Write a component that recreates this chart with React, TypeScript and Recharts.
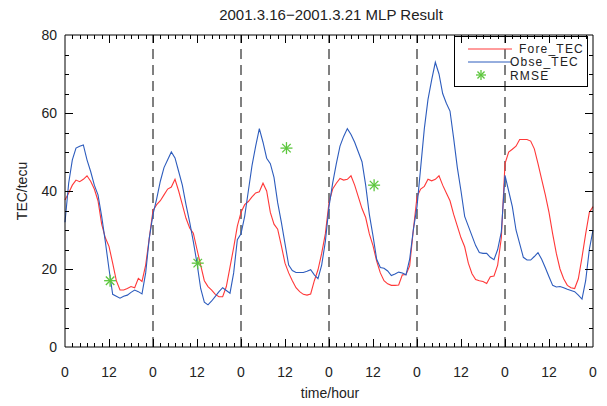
import { ComposedChart, Line, XAxis, YAxis, ReferenceLine } from 'recharts';

// ── data (hourly, 2001-03-16 00h .. 2001-03-22 00h) ──────────────────────────

const HOURS = Array.from({ length: 145 }, (_, i) => i);

const FORE_TEC = [
  37.7, 39.5, 41.5, 42.8, 42.4, 43, 43.9, 42.5, 40.5, 37.5, 31.5, 28, 25.8, 21.5, 17, 14.6, 14.6, 15, 15.5, 15.2, 17.6, 16.8, 21, 28,
  35, 36.5, 37.5, 39, 40.5, 41, 43, 40, 36.5, 33, 30.5, 29.2, 25, 21, 17, 15.5, 14.6, 13.5, 12.9, 12.9, 15.5, 20.5, 25.5, 31,
  34.5, 36.5, 37.3, 38.5, 39.5, 39.8, 42, 40, 34.5, 31.5, 30.2, 26, 21.5, 19, 17, 15.2, 14.2, 13.5, 13.3, 13.6, 17, 19.8, 24, 29,
  37, 40.5, 42, 43.2, 42.8, 43, 43.9, 41.5, 38.5, 35.5, 33.2, 29, 26, 22, 19, 17, 16.2, 15.8, 15.8, 15.9, 18.5, 18.6, 20.8, 30,
  38.5, 40.5, 41.2, 43, 42.6, 43, 43.9, 41.5, 39.5, 37.5, 34, 31, 28, 25.7, 21.5, 18.8, 17.3, 17, 16.8, 16.3, 18, 18.2, 21, 28,
  47, 50, 50.7, 51.5, 53.2, 53.2, 53.2, 52.8, 50.8, 47, 43, 39, 34.5, 29, 24, 20, 17.5, 15.8, 15.2, 15, 17.5, 23, 29, 34.5, 36,
];

const OBSE_TEC = [
  32, 42, 48, 51, 51.5, 51.8, 48, 45, 41.5, 39, 33.5, 27, 20, 13.5, 13, 12.5, 13, 13.3, 14, 14.6, 14.2, 13.6, 19, 28,
  34, 38, 42.5, 46, 48, 50, 48.5, 45, 41.5, 36.5, 32, 27, 21.5, 15, 11.5, 10.8, 11.8, 13, 14.2, 15.2, 14.5, 13.8, 19, 27.5,
  29, 33.5, 40, 46.5, 51.5, 56, 52.5, 48.4, 47, 43.5, 37, 32, 26.5, 21, 19.6, 19.1, 19.1, 19.1, 19.4, 19.8, 18.5, 17.5, 21, 27,
  36, 42, 47, 51.5, 54, 56, 54.5, 52.5, 50, 47.5, 41.5, 34, 28.5, 22.5, 20.4, 20.2, 19.5, 18.3, 18.7, 19.2, 19, 18.5, 22.5, 30,
  36, 46, 56, 63.5, 68.5, 73, 70, 65, 62.5, 60.5, 53.5, 46, 40, 33.5, 31, 28.5, 26, 24.2, 24, 24, 23, 22.4, 25, 29.5,
  44, 40, 36, 30, 26.5, 23, 22.3, 22.3, 23.2, 24.2, 22.5, 20.3, 18, 15.8, 15.4, 15.5, 15.2, 14.8, 14.5, 14.2, 13.3, 12.3, 17, 25, 30,
];

const RMSE_HOUR = [12.3, 36.2, 60.4, 84.3];
const RMSE_VAL  = [17, 21.5, 51, 41.5];

const DAY_BREAKS = [24, 48, 72, 96, 120];
const X_LABEL_TICKS = Array.from({ length: 13 }, (_, i) => i * 12);
const X_MARKS = Array.from({ length: 73 }, (_, i) => i * 2).filter((t) => t > 0 && t < 144);
const Y_LABEL_TICKS = [0, 20, 40, 60, 80];
const Y_MARKS = Array.from({ length: 17 }, (_, i) => i * 5).filter((t) => t > 0 && t < 80);

// ── layout ────────────────────────────────────────────────────────────────────

const W = 607;
const H = 406;
const PLOT = { left: 65, right: 593, top: 35, bottom: 347 };
const FONT = '"Liberation Sans", Arial, sans-serif';
const INK = '#222';
const RED = '#ff3838';
const BLUE = '#2d5cbd';
const GREEN = '#5cc63c';

const data = HOURS.map((h, i) => ({ h, fore: FORE_TEC[i], obse: OBSE_TEC[i] }));
const rmseData = RMSE_HOUR.map((h, i) => ({ h, v: RMSE_VAL[i] }));

// ── tick labels ───────────────────────────────────────────────────────────────

function BottomLabel({ x, payload }: any) {
  const v = payload.value as number;
  return (
    <text x={x} y={PLOT.bottom + 30} textAnchor="middle" fontSize={14} fill={INK} fontFamily={FONT}>
      {v % 24 === 0 ? '0' : '12'}
    </text>
  );
}

function LeftLabel({ y, payload }: any) {
  return (
    <text x={PLOT.left - 8} y={y + 5} textAnchor="end" fontSize={14} fill={INK} fontFamily={FONT}>
      {payload.value}
    </text>
  );
}

function Star({ cx, cy, r = 6, color = GREEN }: { cx: number; cy: number; r?: number; color?: string }) {
  const d = r * 0.707;
  return (
    <g stroke={color} strokeWidth={1.3}>
      <line x1={cx - r} x2={cx + r} y1={cy} y2={cy} />
      <line x1={cx} x2={cx} y1={cy - r} y2={cy + r} />
      <line x1={cx - d} x2={cx + d} y1={cy - d} y2={cy + d} />
      <line x1={cx - d} x2={cx + d} y1={cy + d} y2={cy - d} />
    </g>
  );
}

// ── inward axis tick marks (IDL style), as tiny html boxes over the frame ─────

function TickFrame() {
  const pw = PLOT.right - PLOT.left;
  const ph = PLOT.bottom - PLOT.top;
  const marks: JSX.Element[] = [];
  const box = (key: string, left: number, top: number, width: number, height: number) => (
    <div
      key={key}
      style={{ position: 'absolute', left, top, width, height, background: '#000' }}
    />
  );
  for (const t of X_MARKS) {
    const x = Math.round(PLOT.left + (t / 144) * pw);
    const len = t % 12 === 0 ? 8 : 4;
    marks.push(box(`b${t}`, x, PLOT.bottom - len, 1, len));
    marks.push(box(`t${t}`, x, PLOT.top, 1, len));
  }
  for (const t of Y_MARKS) {
    const y = Math.round(PLOT.bottom - (t / 80) * ph);
    const len = t % 20 === 0 ? 8 : 4;
    marks.push(box(`l${t}`, PLOT.left, y, len, 1));
    marks.push(box(`r${t}`, PLOT.right - len, y, len, 1));
  }
  return (
    <div style={{ position: 'absolute', left: 0, top: 0, width: W, height: H, pointerEvents: 'none' }}>
      {marks}
    </div>
  );
}

// ── legend ────────────────────────────────────────────────────────────────────

function LegendBox() {
  const txt = { fontSize: 12, fill: INK, fontFamily: FONT, letterSpacing: 1.2 } as const;
  return (
    <svg
      width={134}
      height={51}
      style={{ position: 'absolute', left: 454, top: 36, pointerEvents: 'none' }}
    >
      <rect x={0.5} y={0.5} width={133} height={50} fill="none" stroke="#000" />
      <line x1={14} x2={58} y1={13} y2={13} stroke={RED} />
      <text x={65} y={17} {...txt}>Fore_TEC</text>
      <line x1={14} x2={58} y1={26} y2={26} stroke={BLUE} />
      <text x={56} y={30} {...txt}>Obse_TEC</text>
      <Star cx={27} cy={39} r={5} />
      <text x={56} y={43.5} {...txt}>RMSE</text>
    </svg>
  );
}

// ── main ──────────────────────────────────────────────────────────────────────

export default function App() {
  return (
    <div style={{ position: 'absolute', left: 0, top: 0, width: W, height: H, background: '#fff' }}>
      <ComposedChart
        width={W}
        height={H}
        data={data}
        margin={{ top: 5, right: 4, left: 15, bottom: 34 }}
      >
        <XAxis
          dataKey="h"
          type="number"
          domain={[0, 144]}
          ticks={X_LABEL_TICKS}
          interval={0}
          height={25}
          axisLine={{ stroke: '#000' }}
          tickLine={false}
          tick={(p: any) => <BottomLabel {...p} />}
        />
        <XAxis
          xAxisId="top"
          orientation="top"
          dataKey="h"
          type="number"
          domain={[0, 144]}
          ticks={[]}
          height={30}
          axisLine={{ stroke: '#000' }}
          tickLine={false}
          tick={false}
        />
        <YAxis
          type="number"
          domain={[0, 80]}
          ticks={Y_LABEL_TICKS}
          interval={0}
          width={50}
          axisLine={{ stroke: '#000' }}
          tickLine={false}
          tick={(p: any) => <LeftLabel {...p} />}
        />
        <YAxis
          yAxisId="r"
          orientation="right"
          type="number"
          domain={[0, 80]}
          ticks={[]}
          width={10}
          axisLine={{ stroke: '#000' }}
          tickLine={false}
          tick={false}
        />

        {DAY_BREAKS.map((d) => (
          <ReferenceLine key={d} x={d} stroke="#000" strokeDasharray="10 6" />
        ))}

        <Line
          dataKey="fore"
          type="linear"
          stroke={RED}
          strokeWidth={1.1}
          dot={false}
          activeDot={false}
          isAnimationActive={false}
        />
        <Line
          dataKey="obse"
          type="linear"
          stroke={BLUE}
          strokeWidth={1.1}
          dot={false}
          activeDot={false}
          isAnimationActive={false}
        />
        <Line
          data={rmseData}
          dataKey="v"
          stroke="none"
          dot={(p: any) => <Star key={p.index} cx={p.cx} cy={p.cy} />}
          activeDot={false}
          isAnimationActive={false}
        />

        <text x={331} y={20} textAnchor="middle" fontSize={15} fill={INK} fontFamily={FONT}>
          2001.3.16−2001.3.21 MLP Result
        </text>
        <text
          x={27}
          y={191}
          transform="rotate(-90 27 191)"
          textAnchor="middle"
          fontSize={14}
          fill={INK}
          fontFamily={FONT}
        >
          TEC/tecu
        </text>
        <text x={330} y={398} textAnchor="middle" fontSize={14} fill={INK} fontFamily={FONT}>
          time/hour
        </text>
      </ComposedChart>
      <TickFrame />
      <LegendBox />
    </div>
  );
}
